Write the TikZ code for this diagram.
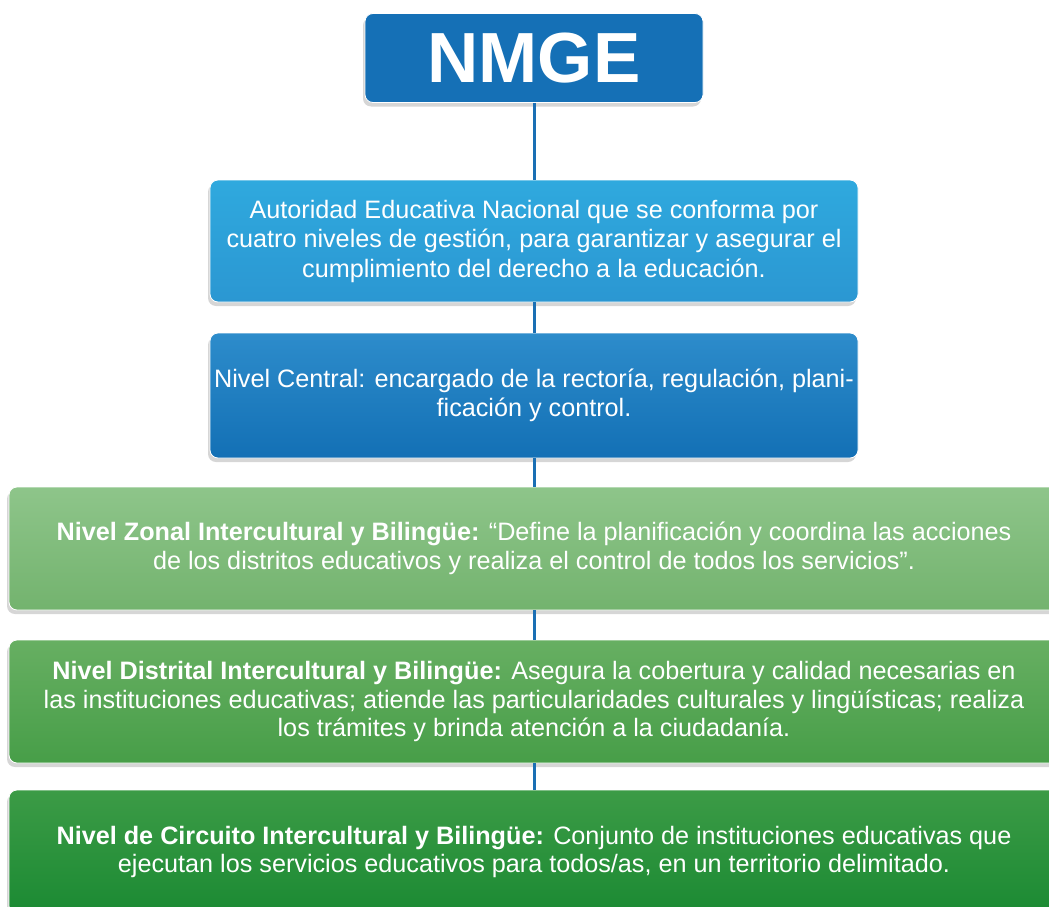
\documentclass[tikz,border=0pt]{standalone}
\usepackage{fontspec}
\setmainfont{Liberation Sans}
\usetikzlibrary{shadows}
\definecolor{nmgeblue}{RGB}{21,112,182}
\definecolor{lineblue}{RGB}{26,111,180}
\definecolor{autTop}{RGB}{47,169,222}
\definecolor{autBot}{RGB}{43,151,210}
\definecolor{cenTop}{RGB}{45,140,203}
\definecolor{cenBot}{RGB}{19,112,181}
\definecolor{zonTop}{RGB}{142,197,138}
\definecolor{zonBot}{RGB}{115,179,110}
\definecolor{disTop}{RGB}{103,175,98}
\definecolor{disBot}{RGB}{71,158,72}
\definecolor{cirTop}{RGB}{60,155,70}
\definecolor{cirBot}{RGB}{27,138,51}

\begin{document}
\begin{tikzpicture}[x=1pt,y=-1pt,
	box/.style={rounded corners=8pt, inner sep=0pt, text=white, align=center,
		draw=white, line width=.8pt,
		font=\fontsize{25.2pt}{29.5pt}\selectfont,
		drop shadow={shadow xshift=-2pt, shadow yshift=-4pt, fill=black!45, opacity=.35}},
	smallbox/.style={box, minimum width=648pt},
	widebox/.style={box, minimum width=1050pt, font=\fontsize{25.2pt}{28.8pt}\selectfont},
	conn/.style={draw=lineblue, line width=3pt}]
	\clip (0,0) rectangle (1049,907);
	\fill[white] (0,0) rectangle (1049,907);
	% cabecera
	\node[box, fill=nmgeblue, minimum width=338pt, minimum height=89pt,
		font=\fontsize{71pt}{71pt}\selectfont\bfseries] (nmge) at (534,58) {NMGE};
	% niveles
	\node[smallbox, top color=autTop, bottom color=autBot, minimum height=122pt] (aut) at (534,241)
		{Autoridad Educativa Nacional que se conforma por\\
		cuatro niveles de gestión, para garantizar y asegurar el\\
		cumplimiento del derecho a la educación.};
	\node[smallbox, top color=cenTop, bottom color=cenBot, minimum height=125pt] (central) at (534,395.5)
		{Nivel Central: encargado de la rectoría, regulación, plani-\\
		ficación y control.};
	\node[widebox, top color=zonTop, bottom color=zonBot, minimum height=123pt] (zonal) at (534,548.5)
		{\textbf{Nivel Zonal Intercultural y Bilingüe:} “Define la planificación y coordina las acciones\\
		de los distritos educativos y realiza el control de todos los servicios”.};
	\node[widebox, top color=disTop, bottom color=disBot, minimum height=123pt] (distrital) at (534,701.5)
		{\textbf{Nivel Distrital Intercultural y Bilingüe:} Asegura la cobertura y calidad necesarias en\\
		las instituciones educativas; atiende las particularidades culturales y lingüísticas; realiza\\
		los trámites y brinda atención a la ciudadanía.};
	\node[widebox, top color=cirTop, bottom color=cirBot, minimum height=124pt] (circuito) at (534,852)
		{\textbf{Nivel de Circuito Intercultural y Bilingüe:} Conjunto de instituciones educativas que\\
		ejecutan los servicios educativos para todos/as, en un territorio delimitado.};
	% conectores
	\draw[conn] (nmge) -- (aut);
	\draw[conn] (aut) -- (central);
	\draw[conn] (central) -- (zonal);
	\draw[conn] (zonal) -- (distrital);
	\draw[conn] (distrital) -- (circuito);
\end{tikzpicture}
\end{document}
